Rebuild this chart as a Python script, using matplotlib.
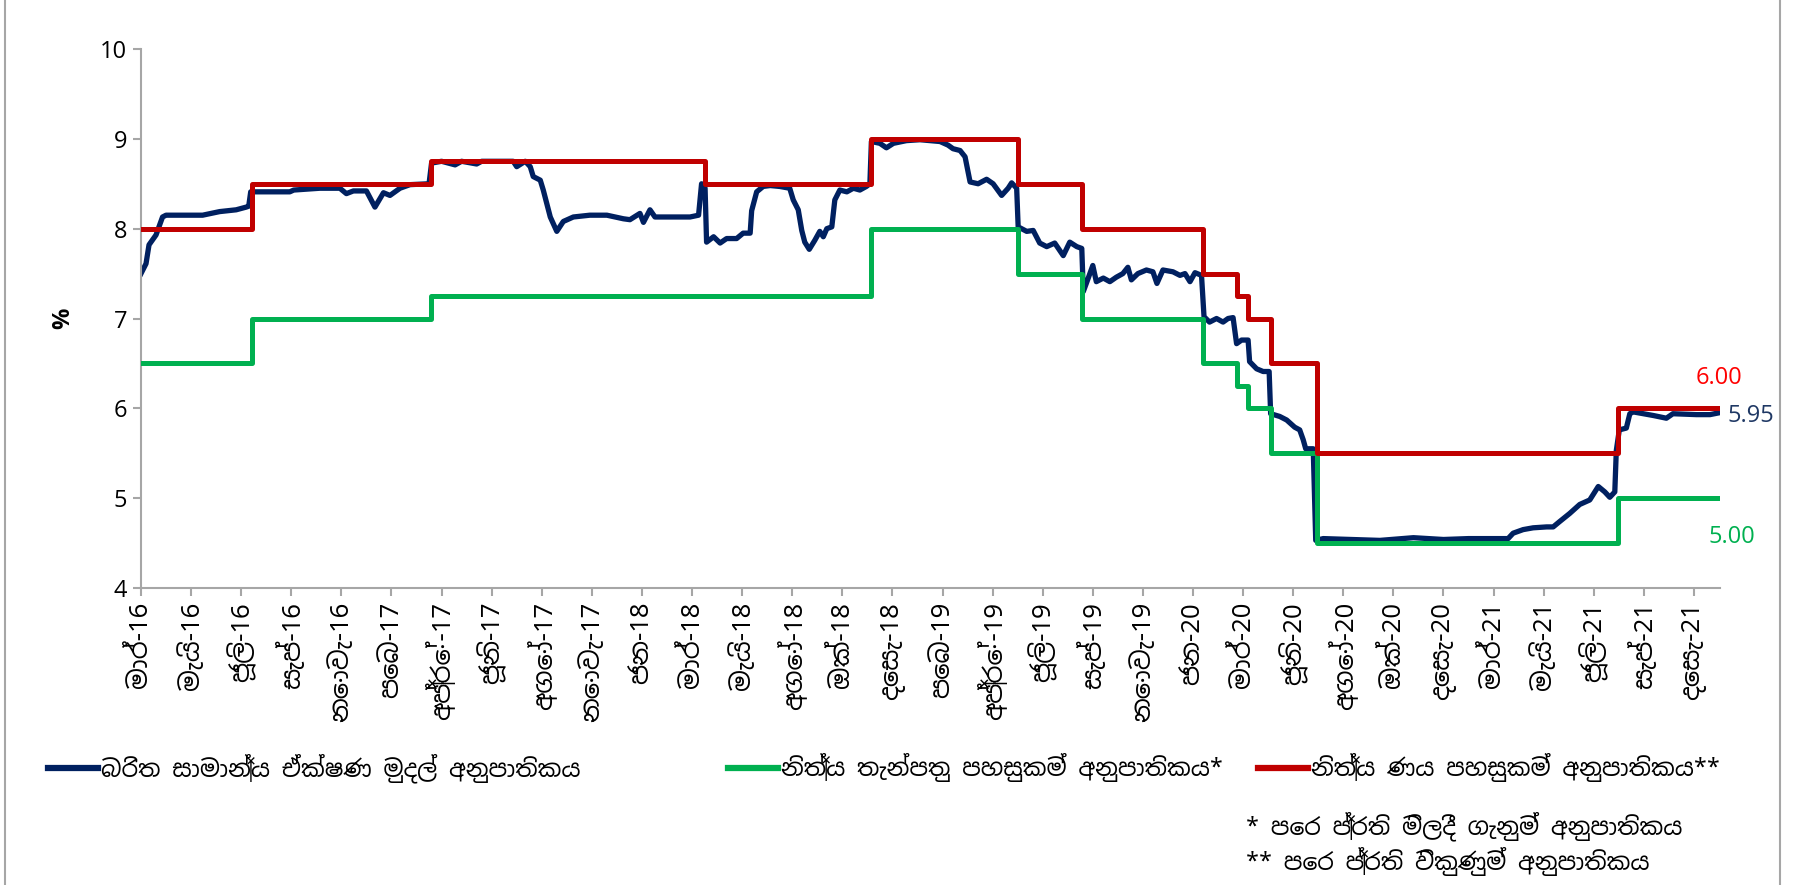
import numpy as np
import matplotlib
matplotlib.use('Agg')
import matplotlib.pyplot as plt
from matplotlib import font_manager as fm
from matplotlib.lines import Line2D

# x positions are in units of one tick step of the (trading-day) category axis
month_labels = ['මාර්-16', 'මැයි-16', 'ජූලි-16', 'සැප්-16', 'නොවැ-16', 'පෙබ-17',
                'අප්‍රේ-17', 'ජූනි-17', 'අගෝ-17', 'නොවැ-17', 'ජන-18', 'මාර්-18',
                'මැයි-18', 'අගෝ-18', 'ඔක්-18', 'දෙසැ-18', 'පෙබ-19', 'අප්‍රේ-19',
                'ජූලි-19', 'සැප්-19', 'නොවැ-19', 'ජන-20', 'මාර්-20', 'ජූනි-20',
                'අගෝ-20', 'ඔක්-20', 'දෙසැ-20', 'මාර්-21', 'මැයි-21', 'ජූලි-21',
                'සැප්-21', 'දෙසැ-21']

# weighted average call money rate
awcmr_pos = [0.0, 0.1, 0.16, 0.30, 0.43, 0.5, 1.23, 1.57, 1.9, 2.1, 2.15, 2.19, 2.97, 3.05,
             3.57, 3.97, 4.1, 4.24, 4.5, 4.67, 4.84, 4.97, 5.17, 5.37, 5.75, 5.80,
             6.0, 6.27, 6.4, 6.70, 6.8, 7.43, 7.5, 7.67, 7.77, 7.83, 7.97, 8.03, 8.1,
             8.17, 8.3, 8.43, 8.63, 8.96, 9.3, 9.63, 9.76, 9.96, 10.03, 10.16, 10.26,
             10.63, 10.96, 11.13, 11.19, 11.26, 11.29, 11.43, 11.56, 11.69, 11.89,
             12.02, 12.16, 12.19, 12.29, 12.42, 12.56,
             12.75, 12.95, 13.02, 13.12, 13.19, 13.25, 13.34, 13.45, 13.55, 13.62,
             13.69, 13.79, 13.85, 13.95, 14.09, 14.22, 14.35, 14.48, 14.55, 14.58,
             14.75, 14.88, 15.02, 15.28, 15.55, 15.95, 16.11, 16.21, 16.35, 16.45,
             16.55, 16.71, 16.88, 17.01, 17.18, 17.31, 17.38, 17.48, 17.51, 17.68,
             17.81, 17.94, 18.08, 18.24, 18.41, 18.54, 18.68, 18.78,
             18.81, 18.87, 19.0, 19.07, 19.21, 19.34, 19.47, 19.6, 19.7, 19.77, 19.9,
             20.07, 20.2, 20.28, 20.4, 20.6, 20.74, 20.84, 20.94, 21.04, 21.17, 21.22,
             21.33, 21.47, 21.6, 21.7, 21.8, 21.87, 21.97, 22.1, 22.13, 22.27, 22.4,
             22.52, 22.55, 22.73, 22.87, 23.03, 23.13, 23.2, 23.25, 23.4, 23.45, 23.6,
             24.73, 25.4, 26.0, 26.5, 27.29, 27.39, 27.59, 27.79, 28.06, 28.19, 28.32,
             28.52, 28.72, 28.92, 29.09, 29.22, 29.32, 29.42, 29.45, 29.51, 29.65,
             29.72, 29.79, 30.19, 30.45, 30.58, 31.05, 31.32, 31.5]
awcmr_val = [7.50, 7.61, 7.82, 7.93, 8.13, 8.15, 8.15, 8.19, 8.21, 8.24, 8.25, 8.41, 8.41, 8.43,
             8.45, 8.45, 8.39, 8.42, 8.42, 8.24, 8.40, 8.37, 8.45, 8.49, 8.50, 8.73,
             8.75, 8.71, 8.75, 8.72, 8.75, 8.75, 8.69, 8.75, 8.69, 8.58, 8.54, 8.43, 8.28,
             8.13, 7.97, 8.08, 8.13, 8.15, 8.15, 8.11, 8.10, 8.17, 8.07, 8.21, 8.13,
             8.13, 8.13, 8.15, 8.50, 8.45, 7.85, 7.91, 7.84, 7.89, 7.89,
             7.95, 7.95, 8.20, 8.41, 8.47, 8.48,
             8.47, 8.45, 8.32, 8.21, 7.98, 7.85, 7.77, 7.87, 7.97, 7.91,
             8.00, 8.02, 8.32, 8.43, 8.41, 8.45, 8.43, 8.47, 8.50, 8.97,
             8.95, 8.90, 8.95, 8.98, 8.99, 8.97, 8.93, 8.89, 8.87, 8.80,
             8.52, 8.50, 8.55, 8.50, 8.37, 8.45, 8.51, 8.45, 8.02, 7.97,
             7.98, 7.84, 7.80, 7.84, 7.70, 7.85, 7.80, 7.78,
             7.30, 7.39, 7.59, 7.41, 7.45, 7.41, 7.46, 7.50, 7.57, 7.43, 7.50,
             7.54, 7.52, 7.39, 7.54, 7.52, 7.48, 7.50, 7.41, 7.51, 7.48, 7.02,
             6.96, 7.00, 6.96, 7.00, 7.01, 6.72, 6.76, 6.76, 6.52, 6.44, 6.41,
             6.41, 5.94, 5.91, 5.87, 5.79, 5.76, 5.65, 5.55, 5.55, 4.53, 4.55,
             4.53, 4.56, 4.54, 4.55, 4.55, 4.61, 4.65, 4.67, 4.68, 4.68, 4.74,
             4.83, 4.93, 4.98, 5.13, 5.07, 5.01, 5.07, 5.53, 5.76, 5.78,
             5.94, 5.96, 5.92, 5.89, 5.94, 5.93, 5.93, 5.95]

# standing deposit facility rate (step changes)
sdfr_pos = [0, 2.21, 5.78, 14.58, 17.51, 18.79, 21.19, 21.88, 22.1, 22.55, 23.48, 29.49, 31.5]
sdfr_val = [6.50, 7.00, 7.25, 8.00, 7.50, 7.00, 6.50, 6.25, 6.00, 5.50, 4.50, 5.00, 5.00]

# standing lending facility rate (step changes)
slfr_pos = [0, 2.21, 5.78, 11.26, 14.58, 17.51, 18.78, 21.19, 21.88, 22.1, 22.55, 23.48, 29.49, 31.5]
slfr_val = [8.00, 8.50, 8.75, 8.50, 9.00, 8.50, 8.00, 7.50, 7.25, 7.00, 6.50, 5.50, 6.00, 6.00]

legend_labels = ['බරිත සාමාන්‍ය ඒක්ෂණ මුදල් අනුපාතිකය',
                 'නිත්‍ය තැන්පතු පහසුකම් අනුපාතිකය*',
                 'නිත්‍ය ණය පහසුකම් අනුපාතිකය**']
notes = ['* පෙර ප්‍රති මිලදී ගැනුම් අනුපාතිකය',
         '** පෙර ප්‍රති විකුණුම් අනුපාතිකය']

c_blue, c_green, c_red = '#002060', '#00B050', '#C00000'

# pick a sinhala-capable family that is installed
installed = {f.name for f in fm.fontManager.ttflist}
sinhala = [n for n in ['Noto Sans Sinhala', 'Noto Sans Sinhala UI', 'Abhaya Libre', 'FreeSerif']
           if n in installed][:1]
plt.rcParams['font.family'] = sinhala + ['Open Sans', 'DejaVu Sans']
num_font = ['Open Sans', 'DejaVu Sans']

W, H = 1793, 885
fig = plt.figure(figsize=(W / 100, H / 100), dpi=100)
ax = fig.add_axes([141 / W, 1 - 588 / H, (1720 - 141) / W, (588 - 49) / H])

ax.plot(awcmr_pos, awcmr_val, color=c_blue, lw=3.8, zorder=2, solid_joinstyle='round')
ax.plot(sdfr_pos, sdfr_val, color=c_green, lw=3.6, drawstyle='steps-post', zorder=3)
ax.plot(slfr_pos, slfr_val, color=c_red, lw=3.6, drawstyle='steps-post', zorder=4)

ax.set_xlim(0, 31.52)
ax.set_ylim(4, 10)
ax.set_xticks(np.arange(len(month_labels)))
ax.set_xticklabels(month_labels, rotation=90, fontsize=18.5)
ax.set_yticks(np.arange(4, 11))
ax.set_yticklabels([str(v) for v in range(4, 11)], family=num_font, fontsize=17)
for s in ['top', 'right']:
    ax.spines[s].set_visible(False)
for s in ['left', 'bottom']:
    ax.spines[s].set_color('#A6A6A6')
    ax.spines[s].set_linewidth(1.5)
ax.tick_params(direction='out', length=6, width=1.5, color='#A6A6A6', pad=4)
ax.set_ylabel('%', fontsize=17, fontweight='bold', family=num_font, labelpad=18)

ax.text(31.5, 6.34, '6.00', color='#FF0000', fontsize=17, ha='center', va='center', family=num_font)
ax.text(31.66, 5.92, '5.95', color='#1F3864', fontsize=17, ha='left', va='center', family=num_font)
ax.text(31.76, 4.57, '5.00', color=c_green, fontsize=17, ha='center', va='center', family=num_font)

# one legend box per entry so each sits where the reference has it
legend_x = [48, 728, 1258]
for c, lab, x0 in zip((c_blue, c_green, c_red), legend_labels, legend_x):
    fig.legend([Line2D([], [], color=c, lw=4.5)], [lab], loc='center left',
               bbox_to_anchor=(x0 / W, 1 - 768 / H), frameon=False, fontsize=17,
               handlelength=2.1, handletextpad=0.15, borderpad=0, borderaxespad=0)

fig.text(1246 / W, 1 - 826 / H, notes[0], fontsize=17, va='center')
fig.text(1246 / W, 1 - 861 / H, notes[1], fontsize=17, va='center')

# outer frame edges
fig.add_artist(Line2D([5 / W, 5 / W], [0, 1], color='#A6A6A6', lw=1.5))
fig.add_artist(Line2D([1780 / W, 1780 / W], [0, 1], color='#A6A6A6', lw=1.5))

fig.savefig('out.png', dpi=100)
